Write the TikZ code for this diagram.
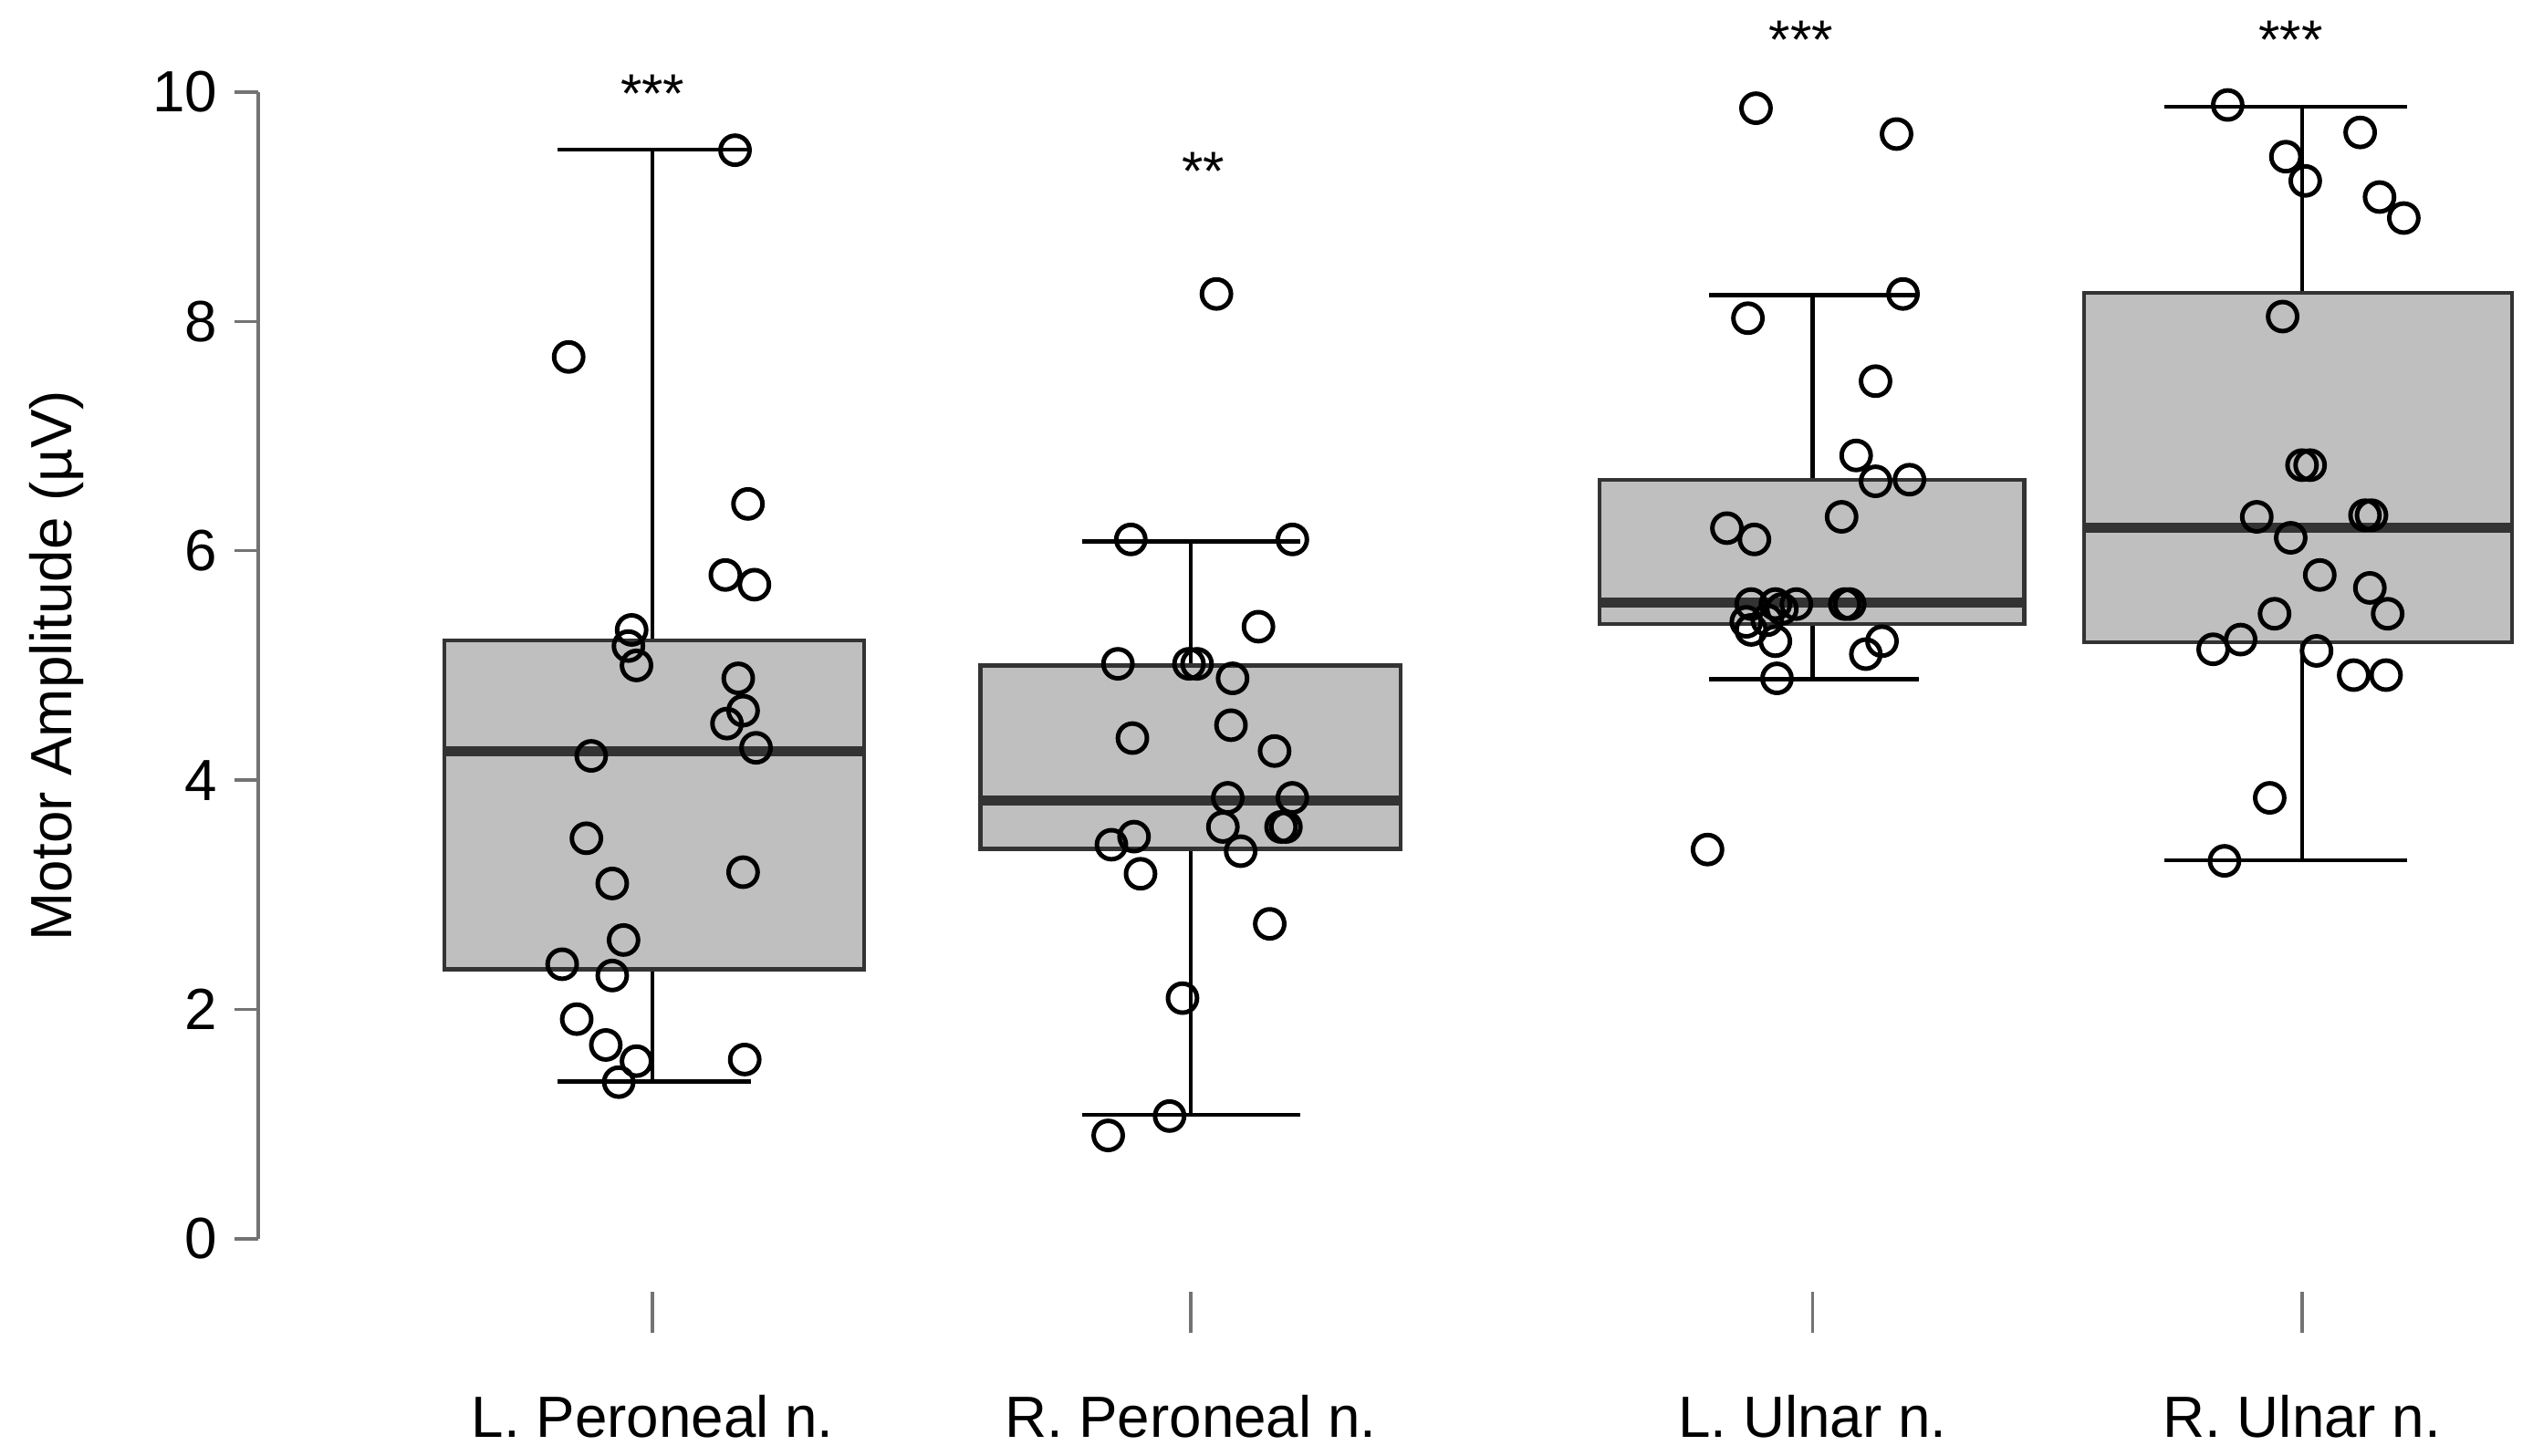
\documentclass[tikz,border=0pt]{standalone}
\usepackage{fontspec}
\setmainfont{Liberation Sans}
\begin{document}
\begin{tikzpicture}[x=1pt,y=-1pt,
  box/.style={draw=black!80,fill=black!25,line width=2.5pt},
  med/.style={line width=6pt,draw=black!80},
  wh/.style={line width=2.5pt,draw=black},
  pt/.style={draw=black,line width=2.8pt,fill=none},
  ax/.style={draw=black!55,line width=2pt},
  lab/.style={font=\fontsize{36}{40}\selectfont},
  star/.style={font=\fontsize{34}{38}\selectfont}]
\useasboundingbox (0,0) rectangle (1568,901);
% axis
\draw[ax] (160,57) -- (160,767);
\foreach \v in {0,2,4,6,8,10}{
  \draw[ax] (160,{767-71*\v}) -- (145,{767-71*\v});
  \node[lab,anchor=east] (t\v) at (138,{767-71*\v}) {\v};}
\node[lab,rotate=90] (yl) at (35,412) {Motor Amplitude (\textmu V)};
% category ticks and labels
\foreach \x/\n/\t in {404/a/L. Peroneal n.,737/b/R. Peroneal n.,1122/c/L. Ulnar n.,1425/d/R. Ulnar n.}{
  \draw[ax] (\x,800) -- (\x,825);
  \node[lab] (l\n) at (\x,877) {\t};}
% boxes: x1 x2 q1 q3 med lo hi capL capR center
\foreach \xa/\xb/\qa/\qb/\m/\lo/\hi/\ca/\cb/\xc in {
  275/535/2.35/5.22/4.25/1.37/9.5/345/465/404,
  607/867/3.4/5.0/3.82/1.08/6.08/670/805/737,
  990/1253/5.36/6.62/5.55/4.88/8.23/1058/1188/1122,
  1290/1555/5.2/8.25/6.2/3.3/9.87/1340/1490/1425}{
  \draw[wh] (\xc,{767-71*\hi}) -- (\xc,{767-71*\lo});
  \draw[wh] (\ca,{767-71*\hi}) -- (\cb,{767-71*\hi});
  \draw[wh] (\ca,{767-71*\lo}) -- (\cb,{767-71*\lo});
  \draw[box] (\xa,{767-71*\qa}) rectangle (\xb,{767-71*\qb});
  \draw[med] (\xa,{767-71*\m}) -- (\xb,{767-71*\m});
}
\node[star] (s1) at (404,58) {***};
\node[star] (s2) at (745,106) {**};
\node[star] (s3) at (1115,25) {***};
\node[star] (s4) at (1418,25) {***};
% points
\foreach \p in {(455,93),(352,221),(463,312),(449,356),(467,362),(391,390),(389,400),(394,412),(457,420),(460,440),(450,448),(468,463),(366,468),(363,519),(460,540),(379,547),(386,582),(348,597),(379,604),(357,631),(375,647),(394,657),(461,656),(383,670),
(753,182),(700,334),(800,334),(779,388),(692,411),(736,411),(741,411),(763,420),(762,449),(701,457),(789,465),(760,494),(800,494),(688,523),(702,518),(757,512),(793,512),(796,512),(768,527),(706,541),(786,572),(732,618),(724,691),(686,703),
(1087,67),(1174,83),(1178,182),(1082,197),(1161,236),(1149,282),(1182,297),(1161,298),(1140,320),(1069,327),(1086,334),(1084,374),(1099,374),(1112,374),(1142,374),(1145,374),(1081,385),(1094,384),(1103,377),(1084,390),(1099,397),(1165,397),(1155,405),(1100,420),(1057,526),
(1379,65),(1461,82),(1415,97),(1427,112),(1473,122),(1488,135),(1413,196),(1425,288),(1430,288),(1397,320),(1464,319),(1468,319),(1418,333),(1436,356),(1467,364),(1408,380),(1478,380),(1387,396),(1370,402),(1434,403),(1457,418),(1477,418),(1405,494),(1377,533)}
  \draw[pt] \p circle (9);
\end{tikzpicture}
\end{document}
